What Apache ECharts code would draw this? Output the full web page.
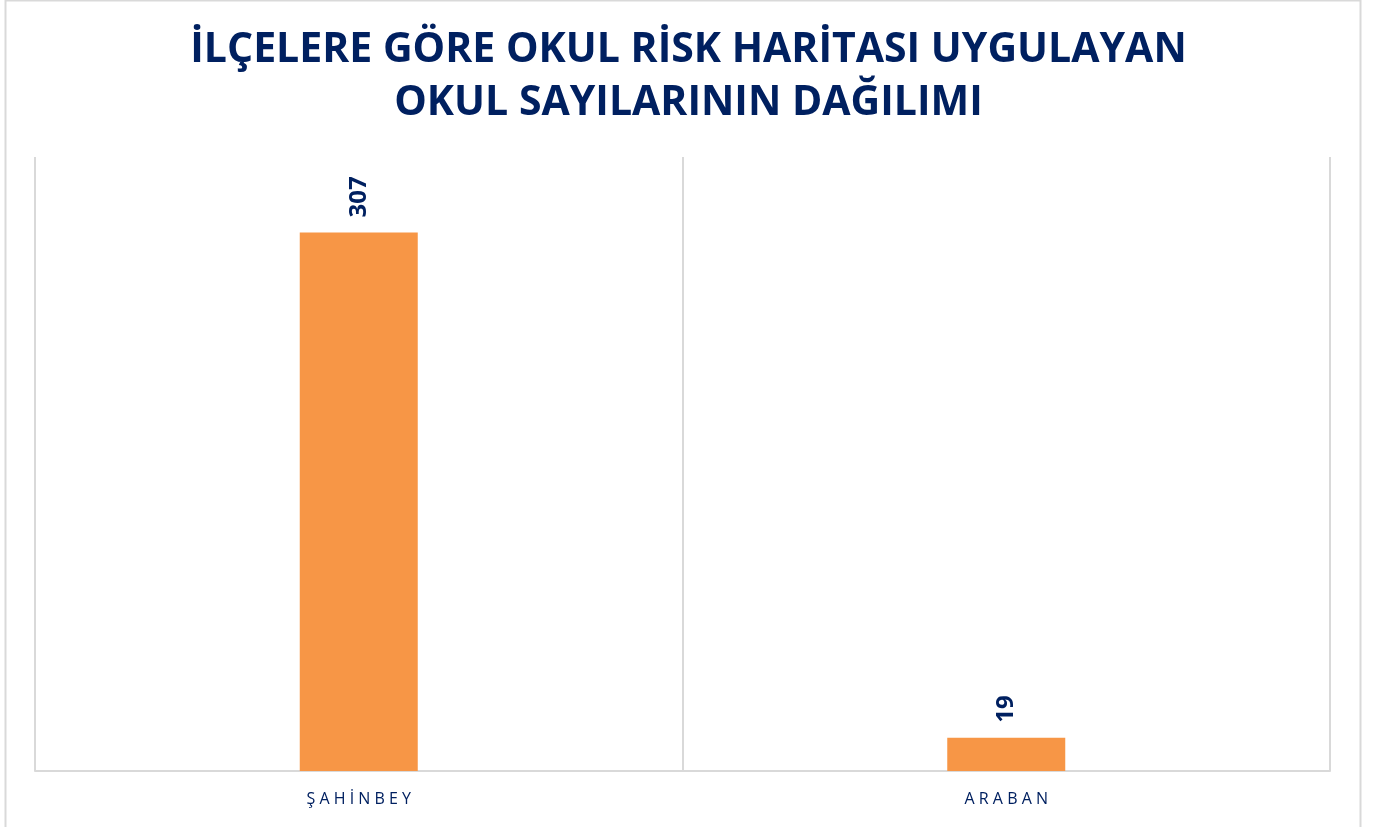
<!DOCTYPE html>
<html>
<head>
<meta charset="utf-8">
<script src="https://cdn.jsdelivr.net/npm/echarts@6/dist/echarts.min.js"></script>
<style>
  html, body { margin: 0; padding: 0; background: #fff; }
  #chart { width: 1377px; height: 827px; }
</style>
</head>
<body>
<div id="chart"></div>
<script>
const titleLines = ['İLÇELERE GÖRE OKUL RİSK HARİTASI UYGULAYAN', 'OKUL SAYILARININ DAĞILIMI'];
const districts = ['ŞAHİNBEY', 'ARABAN'];
const schoolCounts = [307, 19];

// no letterSpacing in canvas text, so pad with spaces
function spaced(str, sep) {
    return str.split('').join(sep);
}

const navy = '#002060';

var chart = echarts.init(document.getElementById('chart'));
chart.setOption({
    animation: false,
    title: {
        text: titleLines.join('\n'),
        left: 'center',
        top: 19,
        textStyle: {
            fontFamily: 'Open Sans',
            fontWeight: 'bold',
            fontSize: 41,
            lineHeight: 53,
            color: navy
        }
    },
    graphic: [{
        type: 'rect',
        shape: { x: 5.5, y: 0.5, width: 1355, height: 900 },
        style: { fill: 'none', stroke: '#d9d9d9', lineWidth: 2 },
        silent: true
    }],
    grid: { left: 35, right: 47, top: 157, bottom: 56 },
    xAxis: {
        type: 'category',
        data: districts,
        axisLine: { lineStyle: { color: '#d9d9d9', width: 2 } },
        axisTick: { show: false },
        splitLine: { show: true, lineStyle: { color: '#d9d9d9', width: 2 } },
        axisLabel: {
            margin: 20,
            fontFamily: 'Open Sans',
            fontSize: 16,
            color: navy,
            formatter: v => spaced(v, ' ')
        }
    },
    yAxis: {
        type: 'value',
        min: 0,
        max: 350,
        show: false,
        splitLine: { show: false }
    },
    series: [{
        type: 'bar',
        data: schoolCounts,
        barWidth: 118,
        itemStyle: { color: '#f79646' },
        label: {
            show: true,
            position: 'top',
            rotate: 90,
            align: 'left',
            verticalAlign: 'middle',
            distance: 15,
            fontFamily: 'Open Sans',
            fontWeight: 'bold',
            fontSize: 24,
            color: navy
        }
    }]
});
</script>
</body>
</html>
